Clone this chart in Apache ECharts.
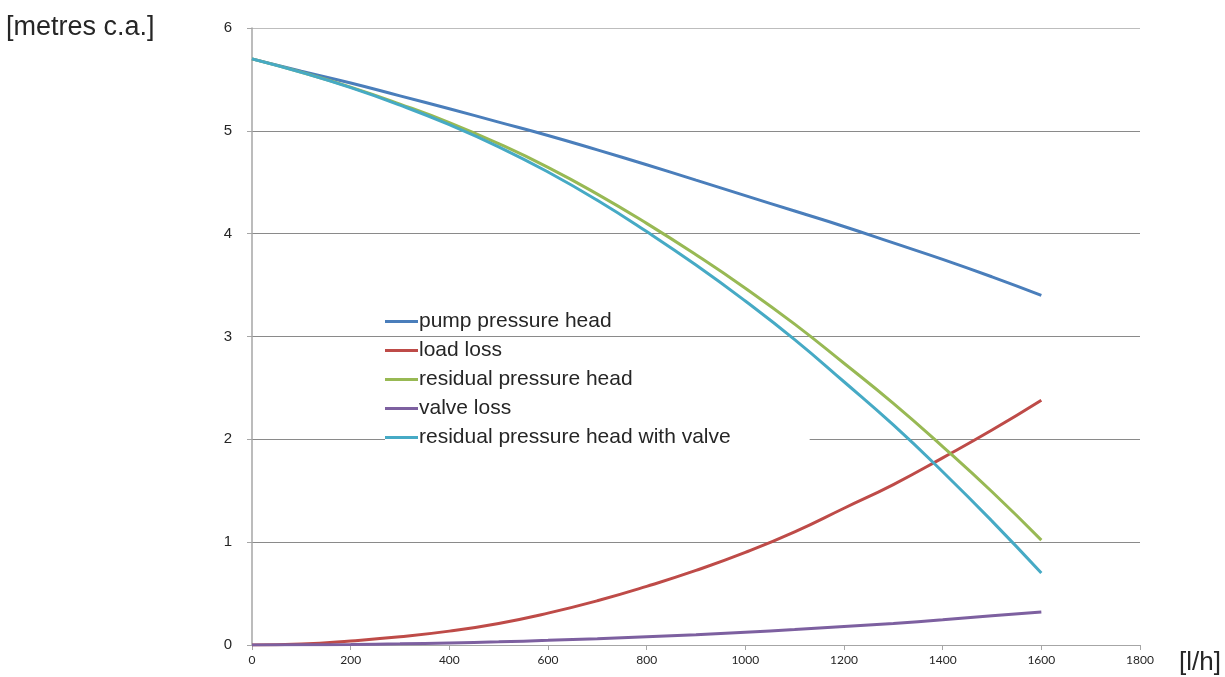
<!DOCTYPE html>
<html>
<head>
<meta charset="utf-8">
<script src="https://cdn.jsdelivr.net/npm/echarts@6/dist/echarts.min.js"></script>
<style>
  html, body { margin: 0; padding: 0; background: #fff; }
  #chart { width: 1225px; height: 677px; }
</style>
</head>
<body>
<div id="chart"></div>
<script>
// Flow rate [l/h]
const flow = [0, 100, 200, 300, 400, 500, 600, 700, 800, 900, 1000, 1100, 1200, 1300, 1400, 1500, 1600];

// Heads and losses [metres c.a.]
const pumpHead     = [5.70, 5.58, 5.465, 5.34, 5.215, 5.085, 4.955, 4.815, 4.67, 4.52, 4.37, 4.22, 4.07, 3.91, 3.75, 3.58, 3.40];
const loadLoss     = [0, 0.01, 0.04, 0.08, 0.135, 0.21, 0.31, 0.43, 0.57, 0.725, 0.90, 1.10, 1.33, 1.56, 1.82, 2.09, 2.38];
const residualHead = [5.70, 5.57, 5.425, 5.26, 5.08, 4.875, 4.645, 4.385, 4.10, 3.795, 3.47, 3.12, 2.74, 2.35, 1.93, 1.49, 1.02];
const valveLoss    = [0, 0.002, 0.005, 0.011, 0.02, 0.031, 0.045, 0.061, 0.08, 0.10, 0.125, 0.15, 0.18, 0.21, 0.245, 0.285, 0.32];
const residualWithValve = [5.70, 5.568, 5.42, 5.25, 5.06, 4.845, 4.60, 4.325, 4.02, 3.695, 3.345, 2.97, 2.56, 2.14, 1.685, 1.205, 0.70];

const seriesNames = [
  'pump pressure head',
  'load loss',
  'residual pressure head',
  'valve loss',
  'residual pressure head with valve'
];
const seriesValues = [pumpHead, loadLoss, residualHead, valveLoss, residualWithValve];
const seriesColors = ['#4a7ebb', '#be4b48', '#98b954', '#7d60a0', '#46aac5'];

const pairs = vals => flow.map((q, i) => [q, vals[i]]);

const chart = echarts.init(document.getElementById('chart'));

// legend rows: a short line marker with the label sitting slightly above it
const legendText = {
  fontFamily: '"Liberation Sans", Arial, sans-serif',
  fontSize: 21,
  color: '#262626',
  lineHeight: 21,
  padding: [0, 0, 8, -4]
};
const legendCommon = {
  orient: 'vertical',
  left: 385,
  itemGap: 0,
  itemWidth: 33,
  itemHeight: 3,
  icon: 'rect',
  selectedMode: false,
  textStyle: legendText
};

chart.setOption({
  animation: false,
  backgroundColor: '#ffffff',
  title: [
    {
      text: '[metres c.a.]',
      left: 6, top: 14, padding: 0,
      textStyle: { fontFamily: '"Liberation Sans", Arial, sans-serif', fontSize: 27, fontWeight: 'normal', color: '#262626' }
    },
    {
      text: '[l/h]',
      left: 1179, top: 650, padding: 0,
      textStyle: { fontFamily: '"Liberation Sans", Arial, sans-serif', fontSize: 26, fontWeight: 'normal', color: '#262626' }
    }
  ],
  legend: [
    Object.assign({}, legendCommon, {
      data: seriesNames.slice(0, 4),
      top: 307,
      padding: 0
    }),
    Object.assign({}, legendCommon, {
      data: seriesNames.slice(4),
      top: 423,
      padding: [0, 79, 0, 0],
      backgroundColor: '#ffffff'
    })
  ],
  grid: { left: 252, right: 85, top: 28, bottom: 32 },
  xAxis: {
    type: 'value',
    min: 0, max: 1800, interval: 200,
    axisLine: { show: true, lineStyle: { color: '#a6a6a6', width: 1 } },
    axisTick: { show: true, length: 5, lineStyle: { color: '#a6a6a6' } },
    axisLabel: {
      margin: 9,
      fontFamily: 'Lato, "Open Sans", sans-serif',
      fontSize: 12,
      color: '#262626',
      formatter: v => String(v)
    },
    splitLine: { show: false }
  },
  yAxis: {
    type: 'value',
    min: 0, max: 6, interval: 1,
    axisLine: { show: true, lineStyle: { color: '#a6a6a6', width: 1.5 } },
    axisTick: { show: true, length: 5, lineStyle: { color: '#a6a6a6' } },
    axisLabel: { margin: 20, fontFamily: '"Liberation Sans", Arial, sans-serif', fontSize: 15, color: '#262626' },
    splitLine: {
      show: true,
      lineStyle: { color: ['#a6a6a6', '#8a8a8a', '#8a8a8a', '#8a8a8a', '#8a8a8a', '#8a8a8a', '#bdbdbd'], width: 1 }
    }
  },
  series: seriesNames.map((name, i) => ({
    name: name,
    type: 'line',
    data: pairs(seriesValues[i]),
    smooth: true,
    showSymbol: false,
    symbol: 'none',
    color: seriesColors[i],
    lineStyle: { color: seriesColors[i], width: 3 },
    emphasis: { disabled: true }
  }))
});
</script>
</body>
</html>
